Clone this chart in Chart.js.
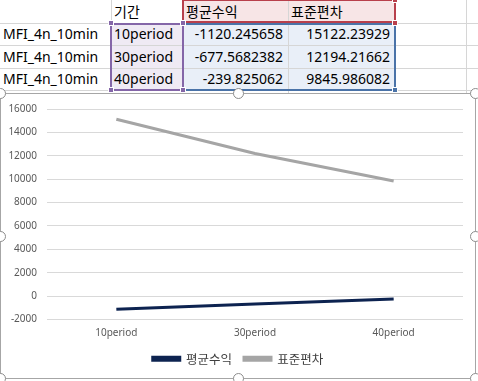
<!DOCTYPE html>
<html><head><meta charset="utf-8">
<script src="https://cdn.jsdelivr.net/npm/chart.js@4.4.1/dist/chart.umd.min.js"></script>
<style>
html,body{margin:0;padding:0;background:#fff;width:478px;height:381px;overflow:hidden;position:relative;}
.c{position:absolute;font-family:"Noto Sans","Noto Sans CJK KR",sans-serif;font-size:14px;color:#000;line-height:1;white-space:nowrap;display:flex;align-items:center;box-sizing:border-box;}
.ab{position:absolute;box-sizing:border-box;}
</style></head><body>
<script>
// ---- data ----
const rowLabels = ['MFI_4n_10min','MFI_4n_10min','MFI_4n_10min'];
const headerPeriod = '기간';
const seriesNames = ['평균수익','표준편차'];
const categories = ['10period','30period','40period'];
const meanReturn = [-1120.245658, -677.5682382, -239.825062];
const stdDev = [15122.23929, 12194.21662, 9845.986082];
const yTicks = {min:-2000, max:16000, step:2000};

// ---- spreadsheet ----
const colX = [0,111,183,288,395,466,478];
const rowY = [0,23,45,68,90];
function box(x,y,w,h,style){const d=document.createElement('div');d.className='ab';d.style.cssText+=`left:${x}px;top:${y}px;width:${w}px;height:${h}px;`+style;document.body.appendChild(d);return d;}
function cell(text,x,y,w,h,align){const d=document.createElement('div');d.className='c';d.style.cssText+=`left:${x}px;top:${y}px;width:${w}px;height:${h}px;justify-content:${align==='r'?'flex-end':'flex-start'};padding:0 ${align==='r'?5:3}px 0 ${align==='r'?0:3}px;`;d.textContent=text;document.body.appendChild(d);}
// fills
box(colX[1],rowY[1],colX[2]-colX[1],rowY[4]-rowY[1],'background:#efeaf4;');
box(colX[2],rowY[0],colX[4]-colX[2],rowY[1]-rowY[0],'background:#f7e5e6;');
box(colX[2],rowY[1],colX[4]-colX[2],rowY[4]-rowY[1],'background:#e9eff8;');
// grid lines
for(let i=1;i<rowY.length;i++) box(0,rowY[i],478,1,'background:#d6d6d6;');
for(let i=1;i<colX.length-1;i++) box(colX[i],0,1,93,'background:#d6d6d6;');
// texts
cell(headerPeriod,colX[1],rowY[0],colX[2]-colX[1],rowY[1]-rowY[0],'l');
cell(seriesNames[0],colX[2],rowY[0],colX[3]-colX[2],rowY[1]-rowY[0],'l');
cell(seriesNames[1],colX[3],rowY[0],colX[4]-colX[3],rowY[1]-rowY[0],'l');
for(let r=0;r<3;r++){
  const y=rowY[r+1],h=rowY[r+2]-rowY[r+1];
  cell(rowLabels[r],colX[0],y,colX[1]-colX[0],h,'l');
  cell(categories[r],colX[1],y,colX[2]-colX[1],h,'l');
  cell(String(meanReturn[r]),colX[2],y,colX[3]-colX[2],h,'r');
  cell(String(stdDev[r]),colX[3],y,colX[4]-colX[3],h,'r');
}
// range highlight borders
box(colX[2]-1,rowY[0]-1,colX[4]-colX[2]+2,rowY[1]-rowY[0]+1,'border:2px solid #b8404c;');
box(colX[2]-1,rowY[1],colX[4]-colX[2]+2,rowY[4]-rowY[1]+1,'border:2px solid #4a73a8;');
box(colX[1]-1,rowY[1],colX[2]-colX[1]+2,rowY[4]-rowY[1]+1,'border:2px solid #8466a8;');
function sq(x,y,c){box(x-3,y-3,6,6,`background:${c};border:1px solid #fff;`);}
sq(colX[4],rowY[0],'#b8404c');sq(colX[4],rowY[1],'#b8404c');
sq(colX[1],rowY[1],'#8466a8');sq(colX[2],rowY[1],'#8466a8');
sq(colX[1],rowY[4],'#8466a8');sq(colX[2],rowY[4],'#8466a8');
sq(colX[4],rowY[4],'#4a73a8');
</script>
<div class="ab" style="left:0;top:93px;width:476px;height:286px;background:#fff;border:1px solid #a6a6a6;"></div>
<canvas id="ch" width="476" height="286" style="position:absolute;left:0;top:93px;"></canvas>
<script>
// handles
[[0,93],[238,93],[475,93],[0,236],[475,236],[0,378],[238,378],[475,378]].forEach(([x,y])=>{
  box(x-5,y-5,11,11,'border:1.5px solid #8c8c8c;border-radius:50%;background:#fff;');
});
const tickFont={family:'"Noto Sans","Noto Sans CJK KR",sans-serif',size:10};
new Chart(document.getElementById('ch'),{
  type:'line',
  data:{labels:categories,datasets:[
    {label:seriesNames[0],data:meanReturn,borderColor:'#0d2350',backgroundColor:'#0d2350',borderWidth:3,pointRadius:0,tension:0},
    {label:seriesNames[1],data:stdDev,borderColor:'#a5a5a5',backgroundColor:'#a5a5a5',borderWidth:3,pointRadius:0,tension:0}
  ]},
  options:{
    responsive:false,devicePixelRatio:1,animation:false,
    layout:{padding:{left:0,right:0,top:9,bottom:4}},
    plugins:{tooltip:{enabled:false},
      legend:{position:'bottom',labels:{boxWidth:27,boxHeight:3,padding:12,color:'#404040',font:{family:'"Noto Sans CJK KR","Noto Sans",sans-serif',size:12.5}}}},
    scales:{
      x:{offset:true,grid:{display:false},border:{display:false},
        ticks:{color:'#595959',font:tickFont,padding:0},
        afterFit:s=>{s.height=21;}},
      y:{min:yTicks.min,max:yTicks.max,grid:{color:'#d9d9d9',drawTicks:false},border:{display:false},
        ticks:{stepSize:yTicks.step,color:'#595959',font:tickFont,padding:10,callback:v=>String(v)},
        afterFit:s=>{s.width=47;}},
      yPad:{position:'right',display:true,grid:{display:false},border:{display:false},
        ticks:{display:false},afterFit:s=>{s.width=13;}}
    }
  }
});
</script>
</body></html>
